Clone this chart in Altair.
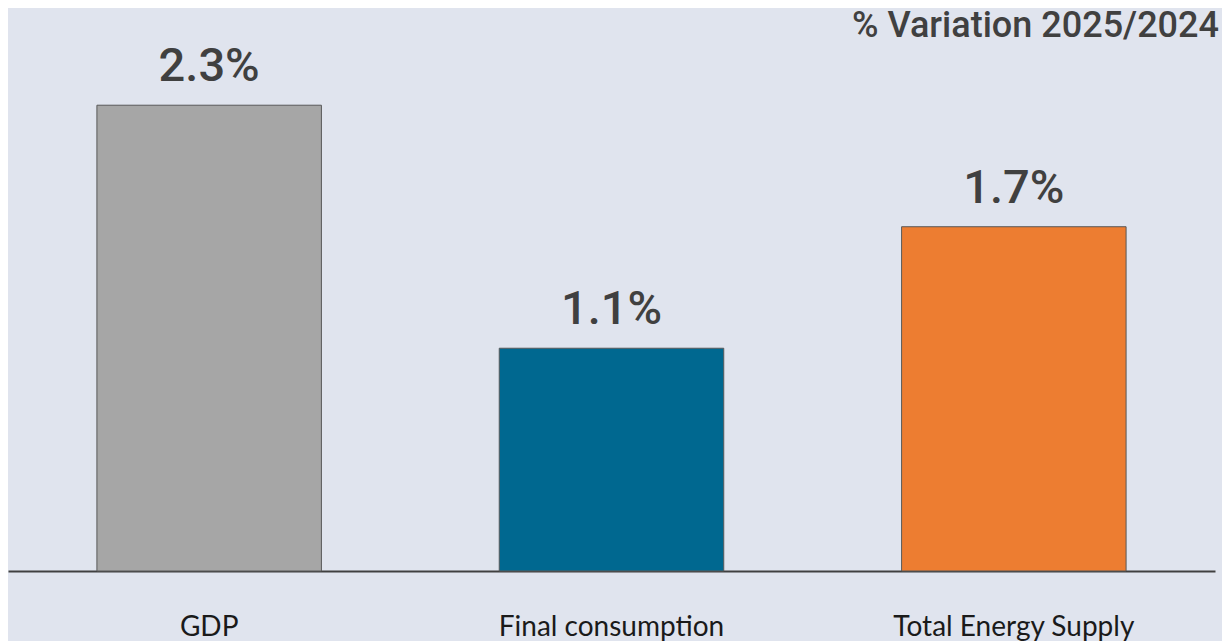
import altair as alt
import pandas as pd

categories = ["GDP", "Final consumption", "Total Energy Supply"]
values = [2.3, 1.1, 1.7]
labels = ["2.3%", "1.1%", "1.7%"]
colors = ["#A6A6A6", "#006890", "#ED7D31"]
title_text = ["% Variation 2025/2024"]

df = pd.DataFrame({"cat": categories, "val": values, "label": labels, "color": colors})
tdf = pd.DataFrame({"t": title_text})

x = alt.X("cat:N", sort=categories,
          scale=alt.Scale(paddingInner=0.442, paddingOuter=0.221),
          axis=alt.Axis(title=None, labelAngle=0, ticks=False, domainColor="#404040",
                        domainWidth=2, labelFont="Lato", labelFontSize=28, labelLimit=0,
                        labelColor="#1A1A1A", labelPadding=42))
y = alt.Y("val:Q", scale=alt.Scale(domain=[0, 2.78], nice=False), axis=None)

bars = alt.Chart(df).mark_bar(stroke="#595959", strokeWidth=1).encode(
    x=x, y=y, color=alt.Color("color:N", scale=None))

text = alt.Chart(df).mark_text(baseline="alphabetic", dy=-24, font="Roboto", fontWeight=500,
                               fontSize=47, color="#404040").encode(
    x=alt.X("cat:N", sort=categories), y="val:Q", text="label:N")

title = alt.Chart(tdf).mark_text(align="right", baseline="alphabetic", font="Roboto",
                                 fontWeight=500, fontSize=36, color="#404040").encode(
    x=alt.value(1211), y=alt.value(29), text="t:N")

chart = alt.layer(bars, text, title).properties(
    width=1207, height=563,
    autosize=alt.AutoSizeParams(type="none"),
    background="#E0E4EE", padding={"left": 0, "right": 7, "top": 0, "bottom": 70}
).configure_view(stroke=None)

chart.save("out.html", embed_options={"renderer": "svg", "actions": False})
